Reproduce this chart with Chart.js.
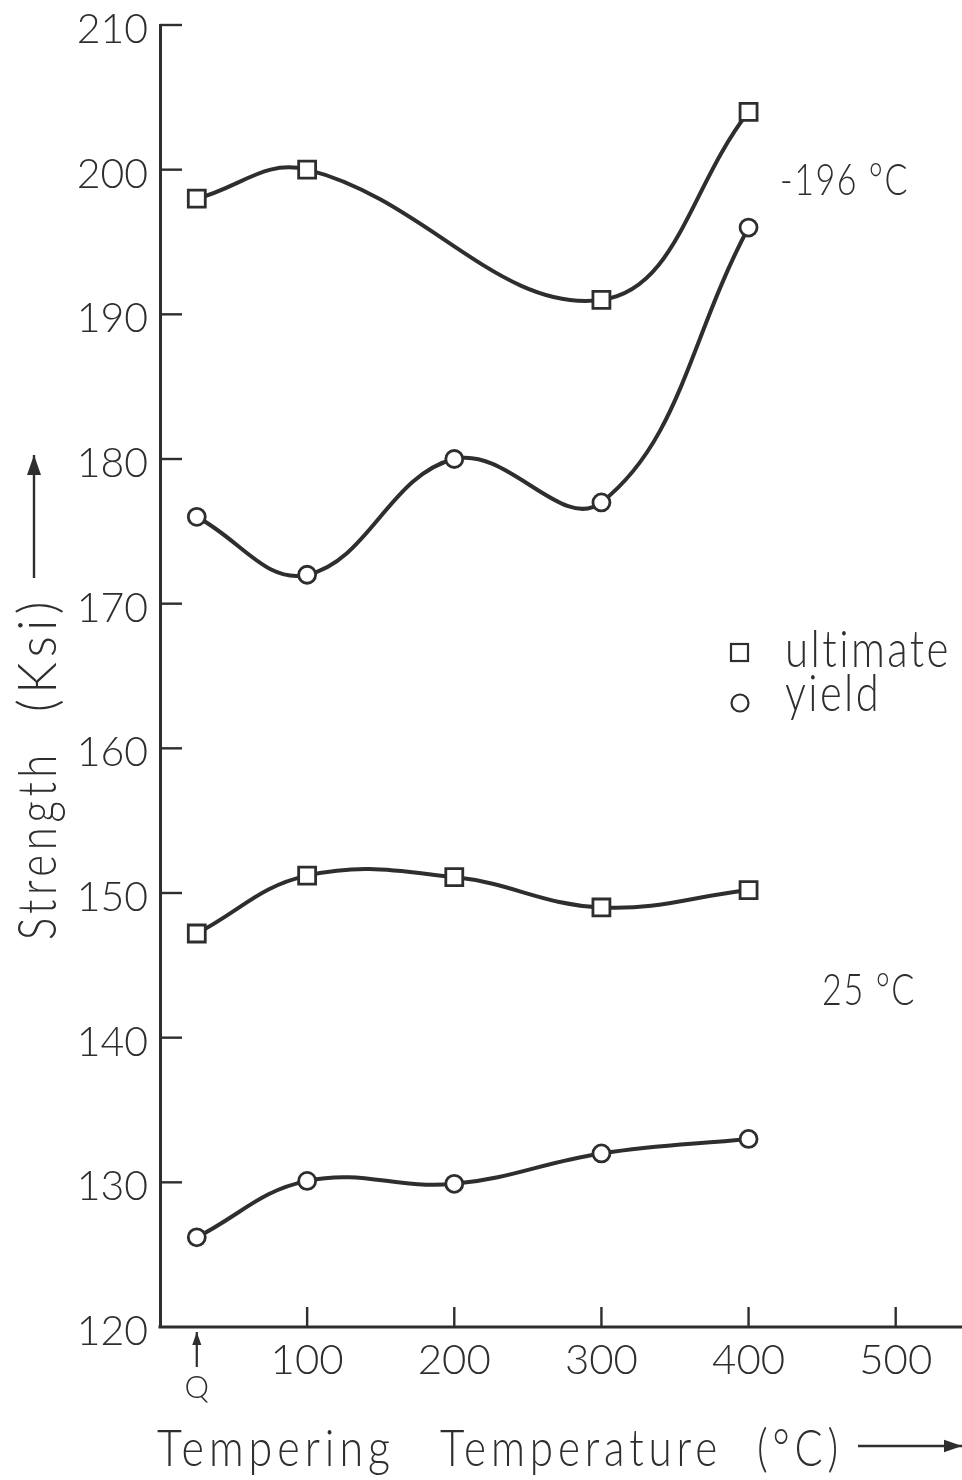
<!DOCTYPE html>
<html>
<head>
<meta charset="utf-8">
<style>
  html, body { margin: 0; padding: 0; background: #fff; }
  #wrap { width: 962px; height: 1480px; position: relative; }
</style>
<script src="https://cdn.jsdelivr.net/npm/chart.js@4.4.1/dist/chart.umd.min.js"></script>
</head>
<body>
<div id="wrap"><canvas id="c" width="962" height="1480"></canvas></div>
<script>
// Tempering temperatures (°C); 25 stands for the as-quenched condition "Q"
const temps = [25, 100, 200, 300, 400];
const tempsUltimateLow = [25, 100, 300, 400];

// Strength (Ksi) tested at -196 °C
const ultimateLow = [198, 200, 191, 204];
const yieldLow = [176, 172, 180, 177, 196];

// Strength (Ksi) tested at 25 °C
const ultimateRoom = [147.2, 151.2, 151.1, 149, 150.2];
const yieldRoom = [126.2, 130.1, 129.9, 132, 133];

const yTicks = [120, 130, 140, 150, 160, 170, 180, 190, 200, 210];
const xTicks = [100, 200, 300, 400, 500];

const INK = '#2e2e2e';
const FONT = 'Lato, "Liberation Sans", sans-serif';

function pts(xs, ys) { return xs.map((x, i) => ({ x: x, y: ys[i] })); }

function series(label, xs, ys, shape) {
  return {
    label: label,
    data: pts(xs, ys),
    borderColor: INK,
    borderWidth: 4,
    tension: 0.4,
    pointStyle: shape,
    pointRadius: shape === 'rect' ? 12 : 8.5,
    pointBackgroundColor: '#fff',
    pointBorderColor: INK,
    pointBorderWidth: 2.8,
    clip: false
  };
}

// draw text squeezed or stretched horizontally to span a given width
function fitText(ctx, text, x, y, width) {
  const w = ctx.measureText(text).width;
  ctx.save();
  ctx.translate(x, y);
  ctx.scale(width / w, 1);
  ctx.textAlign = 'left';
  ctx.fillText(text, 0, 0);
  ctx.restore();
}

function arrowLine(ctx, x1, y1, x2, y2, head) {
  ctx.beginPath();
  ctx.moveTo(x1, y1);
  ctx.lineTo(x2, y2);
  ctx.stroke();
  const a = Math.atan2(y2 - y1, x2 - x1);
  const c = Math.cos(a), s = Math.sin(a), hw = head * 0.35;
  ctx.beginPath();
  ctx.moveTo(x2, y2);
  ctx.lineTo(x2 - head * c + hw * s, y2 - head * s - hw * c);
  ctx.lineTo(x2 - head * c - hw * s, y2 - head * s + hw * c);
  ctx.closePath();
  ctx.fill();
}

const decorations = {
  id: 'decorations',
  afterDraw(chart) {
    const ctx = chart.ctx;
    const xs = chart.scales.x, ys = chart.scales.y;
    const left = xs.getPixelForValue(0);
    const bottom = ys.getPixelForValue(120);
    ctx.save();
    ctx.strokeStyle = INK;
    ctx.fillStyle = INK;

    // temperature axis line, running on to the edge
    ctx.lineWidth = 3;
    ctx.beginPath(); ctx.moveTo(left - 1.5, bottom); ctx.lineTo(962, bottom); ctx.stroke();

    // inward tick marks and labels on the strength axis
    ctx.lineWidth = 2.4;
    ctx.font = '300 41px ' + FONT;
    ctx.textAlign = 'right';
    ctx.textBaseline = 'alphabetic';
    yTicks.forEach(v => {
      const py = ys.getPixelForValue(v);
      if (v !== 120) {
        ctx.beginPath(); ctx.moveTo(left, py); ctx.lineTo(left + 22, py); ctx.stroke();
      }
      ctx.fillText(String(v), left - 12, py + 18);
    });

    // inward tick marks and labels on the temperature axis
    ctx.textAlign = 'center';
    ctx.font = '300 42px ' + FONT;
    xTicks.forEach(v => {
      const px = xs.getPixelForValue(v);
      ctx.beginPath(); ctx.moveTo(px, bottom); ctx.lineTo(px, bottom - 20); ctx.stroke();
      ctx.fillText(String(v), px, bottom + 47);
    });

    // "Q" marker for the as-quenched condition
    const qx = xs.getPixelForValue(temps[0]);
    ctx.lineWidth = 2.2;
    arrowLine(ctx, qx, bottom + 40, qx, bottom + 5, 13);
    ctx.font = '300 31px ' + FONT;
    ctx.fillText('Q', qx, bottom + 71);

    // axis titles
    ctx.lineWidth = 2.4;
    ctx.font = '300 52px ' + FONT;
    ctx.letterSpacing = '6px';
    fitText(ctx, 'Tempering', 157, 1466, 238);
    fitText(ctx, 'Temperature', 440, 1466, 282);
    fitText(ctx, '(°C)', 757, 1466, 86);
    arrowLine(ctx, 858, 1446, 962, 1446, 18);

    ctx.save();
    ctx.translate(56, 940);
    ctx.rotate(-Math.PI / 2);
    ctx.font = '300 54px ' + FONT;
    fitText(ctx, 'Strength', 0, 0, 190);
    fitText(ctx, '(Ksi)', 228, 0, 116);
    ctx.restore();
    arrowLine(ctx, 34, 578, 34, 455, 20);

    // test-temperature labels
    ctx.letterSpacing = '2px';
    ctx.font = '300 44px ' + FONT;
    fitText(ctx, '-196 °C', 780, 195, 129);
    fitText(ctx, '25 °C', 822, 1005, 94);

    // key
    ctx.lineWidth = 2.2;
    ctx.strokeRect(731, 644, 17, 17);
    ctx.beginPath(); ctx.arc(740, 703, 8.5, 0, Math.PI * 2); ctx.stroke();
    ctx.letterSpacing = '3px';
    ctx.font = '300 52px ' + FONT;
    fitText(ctx, 'ultimate', 785, 667, 166);
    fitText(ctx, 'yield', 785, 711, 96);
    ctx.restore();
  }
};

new Chart(document.getElementById('c'), {
  type: 'line',
  data: {
    datasets: [
      series('ultimate -196', tempsUltimateLow, ultimateLow, 'rect'),
      series('yield -196', temps, yieldLow, 'circle'),
      series('ultimate 25', temps, ultimateRoom, 'rect'),
      series('yield 25', temps, yieldRoom, 'circle')
    ]
  },
  options: {
    responsive: false,
    animation: false,
    devicePixelRatio: 1,
    layout: { padding: { left: 160, top: 25, right: 0, bottom: 153 } },
    plugins: { legend: { display: false }, tooltip: { enabled: false } },
    scales: {
      x: {
        type: 'linear', min: 0, max: 535,
        grid: { display: false, drawTicks: false },
        ticks: { display: false },
        border: { display: false }
      },
      y: {
        type: 'linear', min: 120, max: 210,
        grid: { display: false, drawTicks: false },
        ticks: { display: false },
        border: { display: true, color: INK, width: 3 }
      }
    }
  },
  plugins: [decorations]
});
</script>
</body>
</html>
